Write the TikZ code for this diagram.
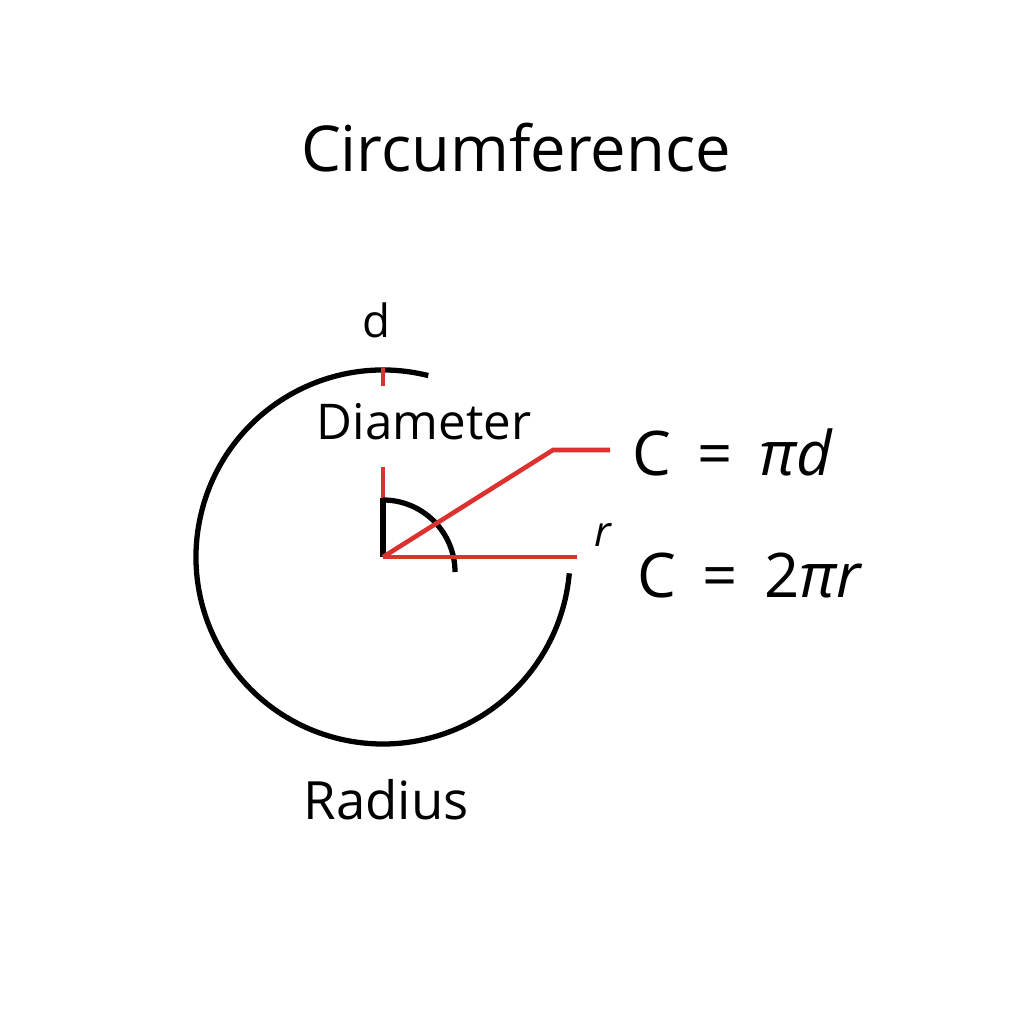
\documentclass[tikz,border=0pt]{standalone}
\usepackage{fontspec}
\setmainfont{Open Sans}
\begin{document}
\begin{tikzpicture}[x=0.01cm,y=-0.01cm,
  blk/.style={line width=1.5pt,black},
  red/.style={line width=1.3pt,color={rgb,255:red,220;green,50;blue,47}},
  lbl/.style={inner sep=0pt}]
\useasboundingbox (0,0) rectangle (1024,1024);
\coordinate (O) at (383,557);
\draw[blk] (O) ++(-76:187) arc[start angle=-76,end angle=-355,radius=187];
\draw[red] (383,368) -- (383,386);
\draw[red] (383,467) -- (383,498);
\draw[blk] (383,498) -- (O);
\draw[blk] (383,500) arc[start angle=-90,end angle=0,radius=72];
\coordinate (R) at (577,557);
\coordinate (K) at (553,450);
\coordinate (E) at (610,450);
\draw[red] (O) -- (R);
\draw[red] (O) -- (K) -- (E);
\node[lbl,font=\fontsize{18}{20}\selectfont] (t) at (516,148) {Circumference};
\node[lbl,font=\fontsize{13}{15}\selectfont] (d) at (377,320) {d};
\node[lbl,font=\fontsize{14}{16}\selectfont] (dia) at (424,422) {Diameter};
\node[lbl,anchor=west,font=\fontsize{17.5}{19}\selectfont] (c1) at (632,452) {C \,=\, \textit{πd}};
\node[lbl,font=\fontsize{12}{14}\selectfont\itshape] (r) at (603,535) {r};
\node[lbl,anchor=west,font=\fontsize{17.5}{19}\selectfont] (c2) at (637,576) {C \,=\, 2\textit{πr}};
\node[lbl,font=\fontsize{15}{17}\selectfont] (rad) at (386,800) {Radius};
\end{tikzpicture}
\end{document}
